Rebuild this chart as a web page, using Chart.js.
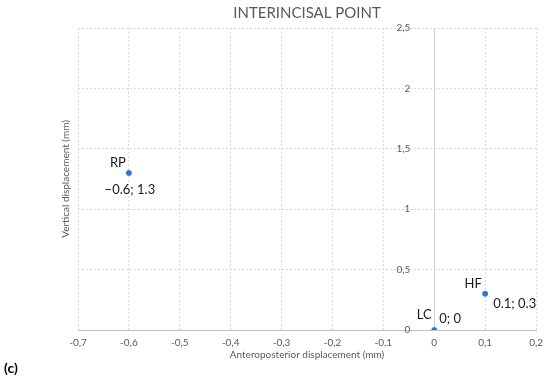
<!DOCTYPE html>
<html><head><meta charset="utf-8">
<script src="https://cdn.jsdelivr.net/npm/chart.js@4"></script>
<style>html,body{margin:0;padding:0;background:#fff;}#wrap{width:550px;height:379px;position:relative;}</style>
</head><body><div id="wrap"><canvas id="c" width="550" height="379"></canvas></div>
<script>
const pointNames = ['RP', 'HF', 'LC'];
const xValues = [-0.6, 0.1, 0];
const yValues = [1.3, 0.3, 0];
const xTicks = [-0.7, -0.6, -0.5, -0.4, -0.3, -0.2, -0.1, 0, 0.1, 0.2];
const yTicks = [0, 0.5, 1, 1.5, 2, 2.5];

// label placement (style only)
const nameOffsets = [[-11, -10], [-12, -10], [-10, -15]];
const valueOffsets = [[1, 17, 'center'], [8, 10, 'left'], [5, -11, 'left']];
const yLabelGap = 8; // px between y-axis line and its tick labels

const FONT = 'Lato, "Open Sans", sans-serif';
const comma = v => String(Math.round(v * 10) / 10).replace('.', ',');
const fmtVal = v => (v < 0 ? '\u2212' : '') + String(Math.abs(v));

const labelPlugin = {
  id: 'lbls',
  afterDatasetsDraw(chart) {
    const ctx = chart.ctx;
    const meta = chart.getDatasetMeta(0);
    ctx.save();
    ctx.font = '13px ' + FONT;
    ctx.fillStyle = '#1a1a1a';
    ctx.textBaseline = 'middle';
    meta.data.forEach((pt, i) => {
      ctx.textAlign = 'center';
      ctx.fillText(pointNames[i], pt.x + nameOffsets[i][0], pt.y + nameOffsets[i][1]);
      ctx.textAlign = valueOffsets[i][2];
      ctx.fillText(fmtVal(xValues[i]) + '; ' + fmtVal(yValues[i]), pt.x + valueOffsets[i][0], pt.y + valueOffsets[i][1]);
    });
    ctx.font = 'bold 14px ' + FONT;
    ctx.fillStyle = '#000';
    ctx.textAlign = 'left';
    ctx.fillText('(c)', 4, 368);
    ctx.restore();
  }
};

// shift the y tick labels (drawn at the x=0 axis) a little to the left
function shiftYLabels(s) {
  const orig = s._computeLabelItems.bind(s);
  s._computeLabelItems = (ca) => orig(ca).map(it => {
    it.options.translation = [it.options.translation[0] - yLabelGap, it.options.translation[1]];
    return it;
  });
}

new Chart(document.getElementById('c'), {
  type: 'scatter',
  data: {
    datasets: [{
      data: xValues.map((x, i) => ({x, y: yValues[i]})),
      backgroundColor: '#2E75D6',
      borderColor: '#2E75D6',
      pointRadius: 2.5,
      pointHoverRadius: 2.5,
      xAxisID: 'x',
      yAxisID: 'y'
    }]
  },
  options: {
    responsive: false,
    animation: false,
    events: [],
    layout: {padding: {left: 60, right: 12, top: 0, bottom: 18}},
    plugins: {
      legend: {display: false},
      tooltip: {enabled: false},
      title: {
        display: true, text: 'INTERINCISAL POINT', fullSize: false,
        color: '#595959', font: {family: FONT, size: 15, weight: 'normal'},
        padding: {top: 4, bottom: 6}
      }
    },
    scales: {
      x: {
        type: 'linear', position: 'bottom', min: -0.7, max: 0.2,
        afterBuildTicks: s => { s.ticks = xTicks.map(v => ({value: v})); },
        ticks: {callback: v => comma(v), color: '#595959', font: {family: FONT, size: 10}, padding: 7, maxRotation: 0},
        grid: {color: '#d9d9d9', drawTicks: false, tickLength: 0},
        border: {display: true, color: '#bfbfbf', dash: [2, 2]},
        title: {display: true, text: 'Anteroposterior displacement (mm)', color: '#595959', font: {family: FONT, size: 10}, padding: {top: 0, bottom: 0}},
        afterFit: s => { s.height = 31; }
      },
      yL: {
        type: 'linear', position: 'left', min: 0, max: 2.5,
        afterBuildTicks: s => { s.ticks = yTicks.map(v => ({value: v})); },
        ticks: {display: false},
        grid: {color: '#d9d9d9', drawTicks: false, tickLength: 0},
        border: {display: false, dash: [2, 2]},
        title: {display: true, text: 'Vertical displacement (mm)', color: '#595959', font: {family: FONT, size: 10}, padding: 0},
        afterFit: s => { s.width = 18; }
      },
      y: {
        type: 'linear', position: {x: 0}, min: 0, max: 2.5,
        afterBuildTicks: s => { s.ticks = yTicks.map(v => ({value: v})); },
        ticks: {callback: v => comma(v), color: '#595959', font: {family: FONT, size: 10}},
        grid: {display: false, drawTicks: false},
        border: {display: true, color: '#d0d0d0'},
        afterFit: s => { s.width = 0; },
        afterUpdate: shiftYLabels
      }
    }
  },
  plugins: [labelPlugin]
});
</script></body></html>
